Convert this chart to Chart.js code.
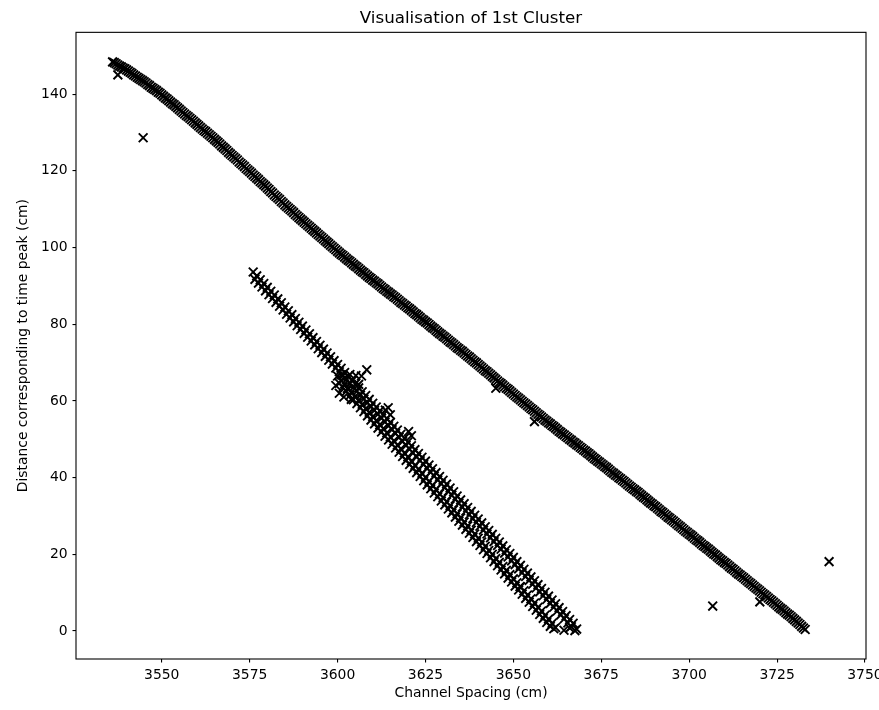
<!DOCTYPE html>
<html lang="en">
<head>
  <meta charset="UTF-8" />
  <title>Visualisation of 1st Cluster</title>
  <style>
    body { margin: 0; background: #fff; }
    canvas { display: block; }
  </style>
  <script src="https://cdn.jsdelivr.net/npm/chart.js@4"></script>
</head>
<body>
  <canvas id="clusterChart" width="879" height="710"></canvas>

  <script>
    // upper curve (channel spacing vs distance at time peak)
    const upperX = [
      3536,3536.5,3537,3537.5,3538,3538.5,3539,3539.5,3540,3540.5,
      3541,3541.5,3542,3542.5,3543,3543.5,3544,3544.5,3545,3545.5,
      3546,3546.5,3547,3547.5,3548,3548.5,3549,3549.5,3550,3550.5,
      3551,3551.5,3552,3552.5,3553,3553.5,3554,3554.5,3555,3555.5,
      3556,3556.5,3557,3557.5,3558,3558.5,3559,3559.5,3560,3560.5,
      3561,3561.5,3562,3562.5,3563,3563.5,3564,3564.5,3565,3565.5,
      3566,3566.5,3567,3567.5,3568,3568.5,3569,3569.5,3570,3570.5,
      3571,3571.5,3572,3572.5,3573,3573.5,3574,3574.5,3575,3575.5,
      3576,3576.5,3577,3577.5,3578,3578.5,3579,3579.5,3580,3580.5,
      3581,3581.5,3582,3582.5,3583,3583.5,3584,3584.5,3585,3585.5,
      3586,3586.5,3587,3587.5,3588,3588.5,3589,3589.5,3590,3590.5,
      3591,3591.5,3592,3592.5,3593,3593.5,3594,3594.5,3595,3595.5,
      3596,3596.5,3597,3597.5,3598,3598.5,3599,3599.5,3600,3600.5,
      3601,3601.5,3602,3602.5,3603,3603.5,3604,3604.5,3605,3605.5,
      3606,3606.5,3607,3607.5,3608,3608.5,3609,3609.5,3610,3610.5,
      3611,3611.5,3612,3612.5,3613,3613.5,3614,3614.5,3615,3615.5,
      3616,3616.5,3617,3617.5,3618,3618.5,3619,3619.5,3620,3620.5,
      3621,3621.5,3622,3622.5,3623,3623.5,3624,3624.5,3625,3625.5,
      3626,3626.5,3627,3627.5,3628,3628.5,3629,3629.5,3630,3630.5,
      3631,3631.5,3632,3632.5,3633,3633.5,3634,3634.5,3635,3635.5,
      3636,3636.5,3637,3637.5,3638,3638.5,3639,3639.5,3640,3640.5,
      3641,3641.5,3642,3642.5,3643,3643.5,3644,3644.5,3645,3645.5,
      3646,3646.5,3647,3647.5,3648,3648.5,3649,3649.5,3650,3650.5,
      3651,3651.5,3652,3652.5,3653,3653.5,3654,3654.5,3655,3655.5,
      3656,3656.5,3657,3657.5,3658,3658.5,3659,3659.5,3660,3660.5,
      3661,3661.5,3662,3662.5,3663,3663.5,3664,3664.5,3665,3665.5,
      3666,3666.5,3667,3667.5,3668,3668.5,3669,3669.5,3670,3670.5,
      3671,3671.5,3672,3672.5,3673,3673.5,3674,3674.5,3675,3675.5,
      3676,3676.5,3677,3677.5,3678,3678.5,3679,3679.5,3680,3680.5,
      3681,3681.5,3682,3682.5,3683,3683.5,3684,3684.5,3685,3685.5,
      3686,3686.5,3687,3687.5,3688,3688.5,3689,3689.5,3690,3690.5,
      3691,3691.5,3692,3692.5,3693,3693.5,3694,3694.5,3695,3695.5,
      3696,3696.5,3697,3697.5,3698,3698.5,3699,3699.5,3700,3700.5,
      3701,3701.5,3702,3702.5,3703,3703.5,3704,3704.5,3705,3705.5,
      3706,3706.5,3707,3707.5,3708,3708.5,3709,3709.5,3710,3710.5,
      3711,3711.5,3712,3712.5,3713,3713.5,3714,3714.5,3715,3715.5,
      3716,3716.5,3717,3717.5,3718,3718.5,3719,3719.5,3720,3720.5,
      3721,3721.5,3722,3722.5,3723,3723.5,3724,3724.5,3725,3725.5,
      3726,3726.5,3727,3727.5,3728,3728.5,3729,3729.5,3730,3730.5,
      3731,3731.5,3732,3732.5,3733];
    const upperY = [
      148.4,148.2,147.9,147.6,147.3,147.1,146.8,146.6,146.3,146.0,
      145.7,145.4,145.0,144.7,144.4,144.1,143.8,143.5,143.2,142.9,
      142.5,142.2,141.8,141.5,141.2,140.9,140.5,140.2,139.8,139.4,
      139.0,138.7,138.3,137.9,137.5,137.2,136.8,136.4,136.0,135.6,
      135.2,134.8,134.4,134.1,133.7,133.3,132.9,132.5,132.1,131.7,
      131.3,130.9,130.5,130.2,129.8,129.4,129.0,128.6,128.2,127.8,
      127.4,127.0,126.5,126.1,125.7,125.3,124.8,124.4,124.0,123.6,
      123.2,122.8,122.3,121.9,121.5,121.1,120.6,120.2,119.8,119.4,
      118.9,118.5,118.1,117.7,117.2,116.8,116.4,116.0,115.5,115.1,
      114.6,114.2,113.7,113.3,112.9,112.5,112.0,111.6,111.1,110.7,
      110.3,109.9,109.5,109.1,108.6,108.2,107.8,107.4,107.0,106.6,
      106.2,105.8,105.4,105.0,104.6,104.2,103.8,103.4,103.0,102.6,
      102.2,101.8,101.4,101.0,100.6,100.2,99.8,99.4,99.0,98.6,
      98.2,97.9,97.5,97.1,96.7,96.4,96.0,95.6,95.2,94.9,
      94.5,94.1,93.7,93.4,93.0,92.6,92.2,91.9,91.5,91.2,
      90.8,90.5,90.1,89.7,89.3,89.0,88.6,88.3,87.9,87.6,
      87.2,86.9,86.5,86.1,85.7,85.4,85.0,84.7,84.3,84.0,
      83.6,83.2,82.8,82.5,82.1,81.7,81.3,81.0,80.6,80.3,
      79.9,79.5,79.1,78.8,78.4,78.0,77.6,77.3,76.9,76.6,
      76.2,75.8,75.4,75.1,74.7,74.3,73.9,73.6,73.2,72.9,
      72.5,72.1,71.7,71.4,71.0,70.6,70.2,69.9,69.5,69.1,
      68.7,68.3,67.9,67.6,67.2,66.8,66.4,66.0,65.6,65.2,
      64.8,64.5,64.1,63.7,63.3,63.0,62.6,62.2,61.8,61.4,
      61.0,60.7,60.3,59.9,59.5,59.2,58.8,58.4,58.0,57.7,
      57.3,56.9,56.5,56.2,55.8,55.4,55.0,54.7,54.3,54.0,
      53.6,53.3,52.9,52.5,52.1,51.8,51.4,51.1,50.7,50.4,
      50.0,49.7,49.3,49.0,48.6,48.3,47.9,47.6,47.2,46.9,
      46.5,46.2,45.8,45.4,45.0,44.7,44.3,44.0,43.6,43.3,
      42.9,42.6,42.2,41.8,41.4,41.1,40.7,40.4,40.0,39.7,
      39.3,39.0,38.6,38.2,37.8,37.5,37.1,36.8,36.4,36.1,
      35.7,35.3,34.9,34.6,34.2,33.8,33.4,33.1,32.7,32.4,
      32.0,31.6,31.2,30.9,30.5,30.1,29.7,29.4,29.0,28.7,
      28.3,27.9,27.5,27.2,26.8,26.4,26.0,25.7,25.3,25.0,
      24.6,24.2,23.8,23.5,23.1,22.7,22.3,22.0,21.6,21.3,
      20.9,20.5,20.1,19.8,19.4,19.0,18.6,18.3,17.9,17.6,
      17.2,16.8,16.4,16.1,15.7,15.3,14.9,14.6,14.2,13.9,
      13.5,13.1,12.7,12.4,12.0,11.6,11.2,10.9,10.5,10.1,
      9.7,9.4,9.0,8.6,8.2,7.9,7.5,7.1,6.7,6.3,
      5.9,5.6,5.2,4.8,4.4,4.1,3.7,3.3,2.9,2.5,
      2.1,1.7,1.2,0.8,0.4];

    // lower pair of tracks: A starts at 3576, B splits off near 3600
    const lowerAX = [
      3576,3576.5,3577,3577.5,3578,3578.5,3579,3579.5,3580,3580.5,
      3581,3581.5,3582,3582.5,3583,3583.5,3584,3584.5,3585,3585.5,
      3586,3586.5,3587,3587.5,3588,3588.5,3589,3589.5,3590,3590.5,
      3591,3591.5,3592,3592.5,3593,3593.5,3594,3594.5,3595,3595.5,
      3596,3596.5,3597,3597.5,3598,3598.5,3599,3599.5,3600,3600.5,
      3601,3601.5,3602,3602.5,3603,3603.5,3604,3604.5,3605,3605.5,
      3606,3606.5,3607,3607.5,3608,3608.5,3609,3609.5,3610,3610.5,
      3611,3611.5,3612,3612.5,3613,3613.5,3614,3614.5,3615,3615.5,
      3616,3616.5,3617,3617.5,3618,3618.5,3619,3619.5,3620,3620.5,
      3621,3621.5,3622,3622.5,3623,3623.5,3624,3624.5,3625,3625.5,
      3626,3626.5,3627,3627.5,3628,3628.5,3629,3629.5,3630,3630.5,
      3631,3631.5,3632,3632.5,3633,3633.5,3634,3634.5,3635,3635.5,
      3636,3636.5,3637,3637.5,3638,3638.5,3639,3639.5,3640,3640.5,
      3641,3641.5,3642,3642.5,3643,3643.5,3644,3644.5,3645,3645.5,
      3646,3646.5,3647,3647.5,3648,3648.5,3649,3649.5,3650,3650.5,
      3651,3651.5,3652,3652.5,3653,3653.5,3654,3654.5,3655,3655.5,
      3656,3656.5,3657,3657.5,3658,3658.5,3659,3659.5,3660,3660.5,
      3661,3661.5,3662,3662.5,3663,3663.5,3664,3664.5,3665,3665.5,
      3666,3666.5,3667,3667.5,3668];
    const lowerAY = [
      93.6,91.7,92.6,90.7,91.6,89.7,90.6,88.7,89.6,87.7,
      88.6,86.7,87.6,85.7,86.6,84.7,85.6,83.7,84.5,82.6,
      83.5,81.6,82.5,80.6,81.5,79.6,80.5,78.6,79.5,77.6,
      78.5,76.6,77.5,75.6,76.5,74.6,75.5,73.6,74.5,72.6,
      73.5,71.6,72.5,70.6,71.5,69.6,70.5,68.6,69.5,67.6,
      68.5,66.6,67.4,65.5,66.4,64.5,65.4,63.5,64.4,62.5,
      63.4,61.5,62.4,60.5,61.4,59.5,60.4,58.5,59.4,57.5,
      58.4,56.5,57.4,55.5,56.4,54.5,55.4,53.5,54.4,52.5,
      53.4,51.5,52.4,50.5,51.3,49.4,50.3,48.4,49.3,47.4,
      48.3,46.4,47.3,45.4,46.3,44.4,45.3,43.4,44.3,42.4,
      43.3,41.4,42.3,40.4,41.3,39.4,40.3,38.4,39.3,37.4,
      38.3,36.4,37.3,35.4,36.3,34.4,35.2,33.3,34.2,32.3,
      33.2,31.3,32.2,30.3,31.2,29.3,30.2,28.3,29.2,27.3,
      28.2,26.3,27.2,25.3,26.2,24.3,25.2,23.3,24.2,22.3,
      23.2,21.3,22.2,20.3,21.2,19.3,20.2,18.3,19.2,17.3,
      18.1,16.2,17.1,15.2,16.1,14.2,15.1,13.2,14.1,12.2,
      13.1,11.2,12.1,10.2,11.1,9.2,10.1,8.2,9.1,7.2,
      8.1,6.2,7.1,5.2,6.1,4.2,5.1,3.2,4.0,2.1,
      3.0,1.1,2.0,0.1,0.5];

    const lowerBX = [
      3600,3600.5,3601,3601.5,3602,3602.5,3603,3603.5,3604,3604.5,
      3605,3605.5,3606,3606.5,3607,3607.5,3608,3608.5,3609,3609.5,
      3610,3610.5,3611,3611.5,3612,3612.5,3613,3613.5,3614,3614.5,
      3615,3615.5,3616,3616.5,3617,3617.5,3618,3618.5,3619,3619.5,
      3620,3620.5,3621,3621.5,3622,3622.5,3623,3623.5,3624,3624.5,
      3625,3625.5,3626,3626.5,3627,3627.5,3628,3628.5,3629,3629.5,
      3630,3630.5,3631,3631.5,3632,3632.5,3633,3633.5,3634,3634.5,
      3635,3635.5,3636,3636.5,3637,3637.5,3638,3638.5,3639,3639.5,
      3640,3640.5,3641,3641.5,3642,3642.5,3643,3643.5,3644,3644.5,
      3645,3645.5,3646,3646.5,3647,3647.5,3648,3648.5,3649,3649.5,
      3650,3650.5,3651,3651.5,3652,3652.5,3653,3653.5,3654,3654.5,
      3655,3655.5,3656,3656.5,3657,3657.5,3658,3658.5,3659,3659.5,
      3660,3660.5,3661,3661.5];
    const lowerBY = [
      66.5,64.6,65.4,63.5,64.4,62.5,63.3,61.4,62.3,60.3,
      61.2,59.3,60.2,58.2,59.1,57.2,58.0,56.1,57.0,55.0,
      55.9,54.0,54.9,52.9,53.8,51.9,52.8,50.8,51.7,49.8,
      50.6,48.7,49.6,47.7,48.5,46.6,47.5,45.5,46.4,44.5,
      45.4,43.4,44.3,42.4,43.2,41.3,42.2,40.3,41.1,39.2,
      40.1,38.1,39.0,37.1,38.0,36.0,36.9,35.0,35.8,33.9,
      34.8,32.9,33.7,31.8,32.7,30.8,31.6,29.7,30.6,28.6,
      29.5,27.6,28.4,26.5,27.4,25.5,26.3,24.4,25.3,23.3,
      24.2,22.3,23.2,21.2,22.1,20.2,21.0,19.1,20.0,18.1,
      18.9,17.0,17.9,15.9,16.8,14.9,15.8,13.8,14.7,12.8,
      13.6,11.7,12.6,10.7,11.5,9.6,10.5,8.5,9.4,7.5,
      8.4,6.4,7.3,5.4,6.2,4.3,5.2,3.3,4.1,2.2,
      3.1,1.2,2.0,0.6];

    // stray detections off the main tracks
    const strayX = [3544.7,3537.5,3645.0,3656.0,3720.1,3706.7,3739.8,
      3599.5,3600.5,3601.0,3602.0,3602.8,3603.5,3604.3,3605.2,3606.0,3606.8,3601.8,3603.9,3608.3,
      3613.6,3614.4,3615.0,3620.2,3621.0,3651.9,3662.0,3664.4,3666.0];
    const strayY = [128.6,145.0,63.3,54.6,7.6,6.5,18.1,
      64.0,62.0,66.8,66.0,63.2,66.9,65.4,66.6,64.3,66.5,61.0,60.4,68.1,
      57.6,58.2,56.4,52.0,50.9,11.6,0.9,0.2,0.8];

    const xTicks = [3550, 3575, 3600, 3625, 3650, 3675, 3700, 3725, 3750];
    const yTicks = [0, 20, 40, 60, 80, 100, 120, 140];

    const FONT = "'DejaVu Sans', sans-serif";

    function toPoints(xs, ys) {
      return xs.map((x, i) => ({ x: x, y: ys[i] }));
    }

    function markerSet(xs, ys) {
      return {
        data: toPoints(xs, ys),
        pointStyle: "crossRot",
        pointRadius: 6.2,
        pointBorderWidth: 1.9,
        pointBorderColor: "#000",
        pointBackgroundColor: "#000",
        showLine: false
      };
    }

    // black box round the plot area
    const frame = {
      id: "frame",
      afterDraw(chart) {
        const a = chart.chartArea;
        const ctx = chart.ctx;
        ctx.save();
        ctx.strokeStyle = "#000";
        ctx.lineWidth = 1.1;
        ctx.strokeRect(a.left, a.top, a.right - a.left, a.bottom - a.top);
        ctx.restore();
      }
    };

    const axisStyle = {
      grid: { drawOnChartArea: false, drawTicks: true, tickLength: 3.5, color: "#000", lineWidth: 1.1 },
      border: { display: false },
      ticks: {
        color: "#000",
        font: { family: FONT, size: 13.9 },
        padding: 4.9,
        autoSkip: false,
        maxRotation: 0,
        callback: v => String(v)
      }
    };

    new Chart(document.getElementById("clusterChart"), {
      type: "scatter",
      data: {
        datasets: [
          markerSet(upperX, upperY),
          markerSet(lowerAX, lowerAY),
          markerSet(lowerBX, lowerBY),
          markerSet(strayX, strayY)
        ]
      },
      options: {
        responsive: false,
        animation: false,
        devicePixelRatio: 1,
        layout: { padding: 0 },
        plugins: {
          legend: { display: false },
          tooltip: { enabled: false },
          title: {
            display: true,
            text: "Visualisation of 1st Cluster",
            color: "#000",
            fullSize: false,
            font: { family: FONT, size: 16.7, weight: "normal" },
            padding: { top: 8.7, bottom: 3.6 }
          }
        },
        scales: {
          x: {
            ...axisStyle,
            type: "linear",
            position: "bottom",
            min: 3525.6,
            max: 3750.3,
            afterBuildTicks: s => { s.ticks = xTicks.map(v => ({ value: v })); },
            afterFit: s => { s.height = 51; s.paddingRight = 13; s.paddingLeft = 0; },
            title: {
              display: true,
              text: "Channel Spacing (cm)",
              color: "#000",
              font: { family: FONT, size: 13.9 },
              padding: { top: 0, bottom: 8.6 }
            }
          },
          y: {
            ...axisStyle,
            type: "linear",
            min: -7.3,
            max: 156.1,
            afterBuildTicks: s => { s.ticks = yTicks.map(v => ({ value: v })); },
            afterFit: s => { s.width = 76; },
            title: {
              display: true,
              text: "Distance corresponding to time peak (cm)",
              color: "#000",
              font: { family: FONT, size: 13.9 },
              padding: { top: 14.6, bottom: 0 }
            }
          }
        }
      },
      plugins: [frame]
    });
  </script>
</body>
</html>
